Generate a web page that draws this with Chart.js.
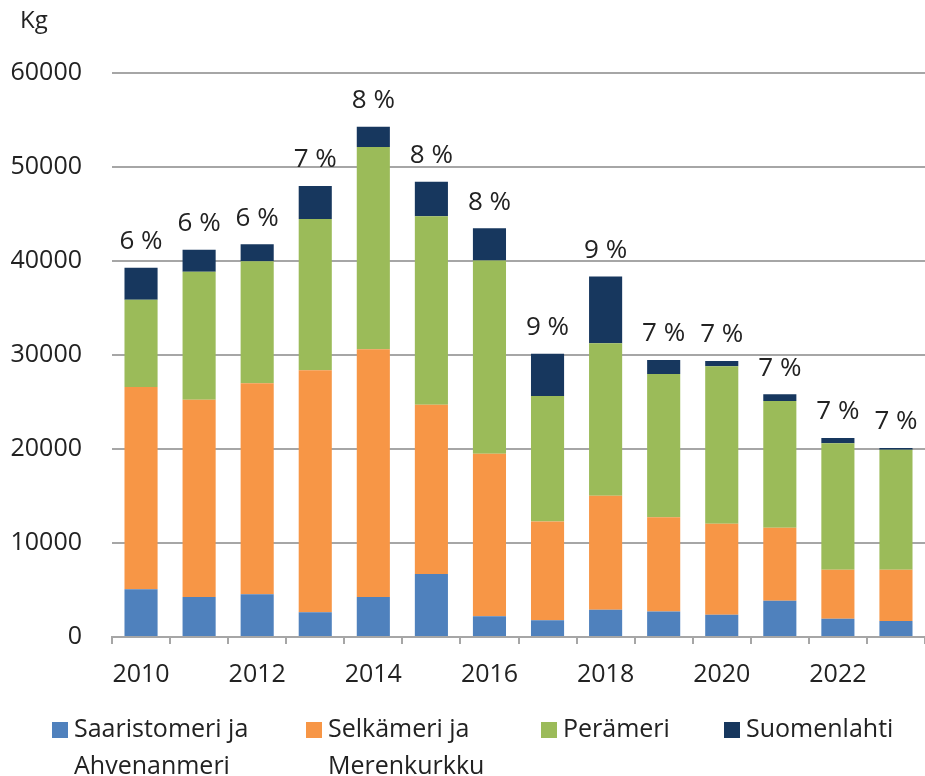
<!DOCTYPE html>
<html><head><meta charset="utf-8">
<script src="https://cdn.jsdelivr.net/npm/chart.js@4"></script>
<style>
html,body{margin:0;padding:0;background:#fff;}
#wrap{position:relative;width:925px;height:776px;overflow:hidden;}
#c{position:absolute;left:0;top:0;}
.unit{position:absolute;left:20px;top:2px;font:24px 'Open Sans';color:#222;}
.lg{position:absolute;top:709px;font:25px/37px 'Open Sans';color:#222;white-space:pre-line;}
.sw{position:absolute;width:16px;height:16px;top:722px;}
</style></head><body>
<div id="wrap"><canvas id="c" width="925" height="776"></canvas><div class="unit">Kg</div><div id="legend"></div></div>
<script>
const years = ['2010','2011','2012','2013','2014','2015','2016','2017','2018','2019','2020','2021','2022','2023'];
const saaristomeri = [5070,4250,4540,2630,4250,6700,2220,1780,2890,2700,2370,3860,1950,1700];
const selkameri   = [21530,20990,22450,25740,26360,18020,17280,10520,12130,10040,9680,7770,5210,5460];
const peramer     = [9280,13620,12980,16100,21520,20040,20550,13350,16240,15230,16750,13480,13440,12770];
const suomenlahti = [3410,2340,1810,3510,2150,3660,3440,4480,7080,1490,560,710,570,180];
const shareLabels = ['6 %','6 %','6 %','7 %','8 %','8 %','8 %','9 %','9 %','7 %','7 %','7 %','7 %','7 %'];
const seriesNames = ['Saaristomeri ja\nAhvenanmeri','Selkämeri ja\nMerenkurkku','Perämeri','Suomenlahti'];
const seriesColors = ['#4f81bd','#f79646','#9bbb59','#17375e'];
const yMin = 0, yMax = 60000, yStep = 10000;

const seriesData = [saaristomeri, selkameri, peramer, suomenlahti];

const shareLabelPlugin = {
  id: 'shareLabels',
  afterDatasetsDraw(chart) {
    const ctx = chart.ctx, ys = chart.scales.y;
    const meta0 = chart.getDatasetMeta(0);
    ctx.save();
    ctx.font = '26px "Open Sans"';
    ctx.fillStyle = '#222';
    ctx.textAlign = 'center';
    ctx.textBaseline = 'middle';
    years.forEach((_, i) => {
      const total = chart.data.datasets.reduce((s, d) => s + d.data[i], 0);
      ctx.fillText(shareLabels[i], meta0.data[i].x, ys.getPixelForValue(total) - 26);
    });
    ctx.restore();
  }
};

const chart = new Chart(document.getElementById('c'), {
  type: 'bar',
  data: {
    labels: years,
    datasets: seriesData.map((d, k) => ({
      label: seriesNames[k],
      data: d,
      backgroundColor: seriesColors[k],
      borderWidth: 0,
      barPercentage: 0.57,
      categoryPercentage: 1
    }))
  },
  options: {
    responsive: false,
    animation: false,
    devicePixelRatio: 1,
    layout: { padding: { top: 73, right: 0, bottom: 79, left: 0 } },
    plugins: { legend: { display: false }, tooltip: { enabled: false } },
    scales: {
      x: {
        stacked: true,
        grid: { display: true, drawOnChartArea: false, drawTicks: true, tickLength: 7, color: '#a6a6a6', lineWidth: 2, offset: true },
        border: { display: true, color: '#a6a6a6', width: 2 },
        ticks: {
          autoSkip: false, maxRotation: 0, padding: 16, color: '#222',
          font: { family: 'Open Sans', size: 25 },
          callback: (v, i) => (i % 2 === 0 ? years[i] : '')
        },
        afterFit(s) { s.height = 60; }
      },
      y: {
        stacked: true,
        min: yMin, max: yMax,
        grid: { color: '#a6a6a6', lineWidth: 2, drawTicks: false },
        border: { display: false },
        ticks: { stepSize: yStep, padding: 30, color: '#222', font: { family: 'Open Sans', size: 25 },
          callback: (v) => String(v) },
        afterFit(s) { s.width = 112; }
      }
    }
  },
  plugins: [shareLabelPlugin]
});

// HTML legend built from the datasets
const legendX = [52, 306, 541, 724];
const lg = document.getElementById('legend');
chart.data.datasets.forEach((ds, k) => {
  const sw = document.createElement('div');
  sw.className = 'sw';
  sw.style.left = legendX[k] + 'px';
  sw.style.background = ds.backgroundColor;
  lg.appendChild(sw);
  const t = document.createElement('div');
  t.className = 'lg';
  t.style.left = (legendX[k] + 22) + 'px';
  t.textContent = ds.label;
  lg.appendChild(t);
});
</script>
</body></html>
